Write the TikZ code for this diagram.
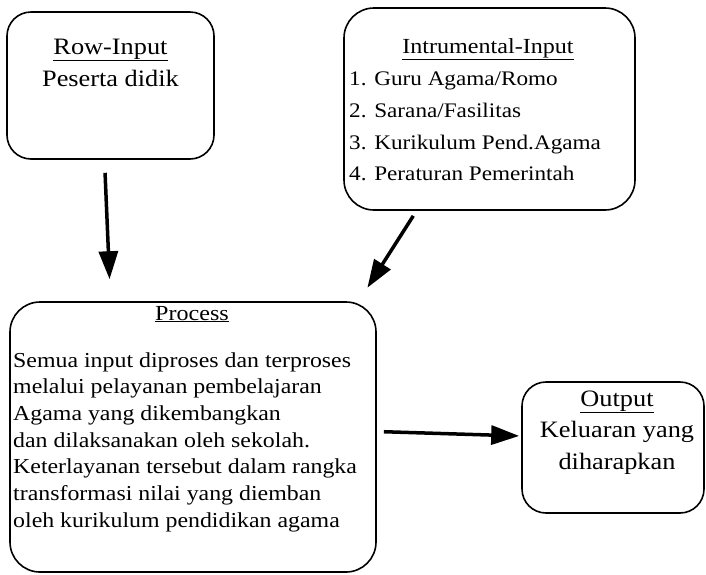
\documentclass[tikz,border=0pt]{standalone}
\usepackage{fontspec}
\setmainfont[FakeStretch=1.12]{Liberation Serif}
\usepackage{tikz}
\usetikzlibrary{arrows.meta}
\tikzstyle{box} = [draw, line width=1.6pt, rounded corners=24pt, inner sep=0pt]
\tikzstyle{arrow} = [draw, -{Triangle[length=28pt,width=19pt]}, line width=3.5pt]
\tikzstyle{boxtext} = [inner sep=0pt, anchor=base, align=center]

\begin{document}
\begin{tikzpicture}[x=1pt, y=-1pt]
\useasboundingbox (0,0) rectangle (706,574);

\node[box, minimum width=207pt, minimum height=147pt] at (110.5, 85.5) (rowin) {};
\node[boxtext, font=\fontsize{23.5}{32}\selectfont] at (110.5, 86) (rowintext) {\underline{Row-Input}\\Peserta didik};

\node[box, rounded corners=30pt, minimum width=291pt, minimum height=202pt] at (489.5, 109) (instin) {};
\node[boxtext, font=\fontsize{21.5}{32}\selectfont] at (488, 53) (instintitle) {\underline{Intrumental-Input}};
\node[boxtext, anchor=base west, align=left, font=\fontsize{20.7}{31.7}\selectfont] at (349, 180.8) (instinlist) {1. Guru Agama/Romo\\2. Sarana/Fasilitas\\3. Kurikulum Pend.Agama\\4. Peraturan Pemerintah};

\node[box, rounded corners=30pt, minimum width=366pt, minimum height=270pt] at (193, 437) (proc) {};
\node[boxtext, font=\fontsize{21.5}{26.7}\selectfont] at (192, 320) (proctitle) {\underline{Process}};
\node[boxtext, anchor=base west, align=left, font=\fontsize{21.3}{26.7}\selectfont] at (13, 527.2) (proctext) {Semua input diproses dan terproses\\melalui pelayanan pembelajaran\\Agama yang dikembangkan\\dan dilaksanakan oleh sekolah.\\Keterlayanan tersebut dalam rangka\\transformasi nilai yang diemban\\oleh kurikulum pendidikan agama};

\node[box, minimum width=182pt, minimum height=131pt] at (613, 447.5) (outp) {};
\node[boxtext, font=\fontsize{23.5}{31.5}\selectfont] at (617, 469) (outptext) {\underline{Output}\\Keluaran yang\\diharapkan};

\path[arrow, shorten <=13pt, shorten >=22pt] ([xshift=-6pt]rowin.south) -- (rowin.south |- proc.north);
\path[arrow, shorten <=6pt, shorten >=16pt] ([xshift=-73pt]instin.south) -- ([xshift=-18pt]proc.north east);
\path[arrow, shorten <=7pt, shorten >=2pt] ([yshift=5.5pt]proc.east) -- ([yshift=11.5pt]outp.west);
\end{tikzpicture}
\end{document}
